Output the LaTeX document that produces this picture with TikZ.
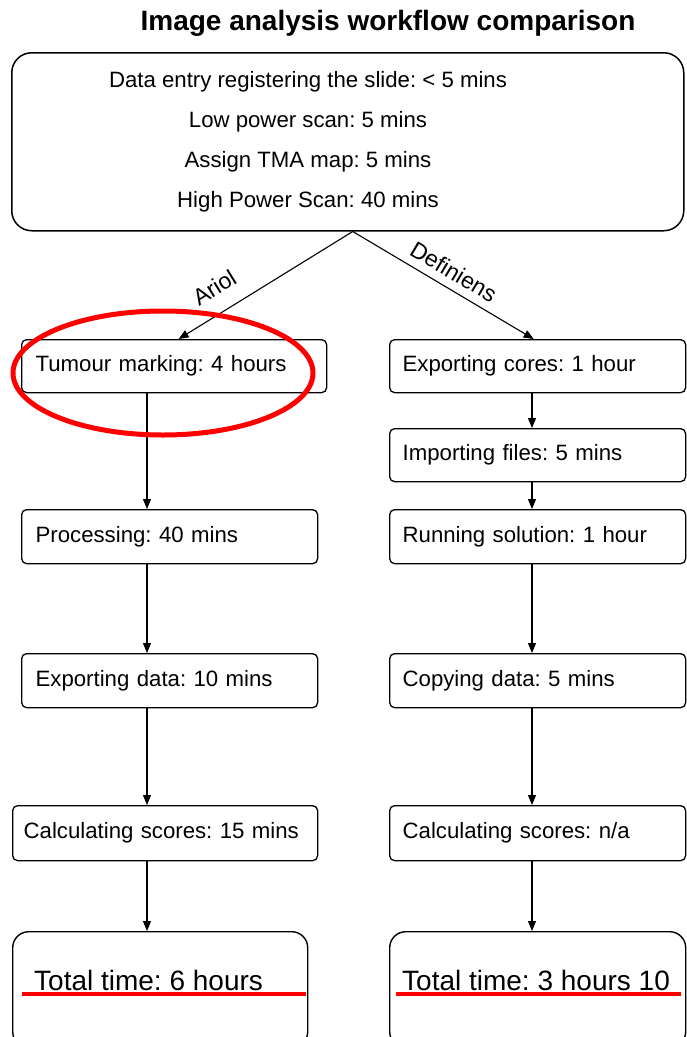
\documentclass[tikz,border=0pt]{standalone}
\usepackage{fontspec}
\setmainfont{Liberation Sans}
\usetikzlibrary{arrows.meta}
\frenchspacing
\begin{document}
\begin{tikzpicture}[x=1pt,y=-1pt,
  stage/.style={draw, line width=1.3pt, rounded corners=5pt, anchor=north west,
    inner ysep=0pt, align=left, font=\fontsize{22.2}{26}\selectfont},
  totalbox/.style={draw, line width=1.4pt, rounded corners=16pt, anchor=north west, inner sep=0pt},
  linetext/.style={anchor=base, inner sep=0pt, font=\fontsize{22.2}{26}\selectfont},
  totaltext/.style={anchor=base west, inner sep=0pt, font=\fontsize{28}{31}\selectfont},
  arr/.style={line width=1.1pt, -{Triangle[length=10pt,width=8pt]}},
  branch/.style={inner sep=0pt, sloped, font=\fontsize{23}{26}\selectfont},
  redmark/.style={draw=red, line width=4pt}]
\clip (0,0) rectangle (687,1037);
\fill[white] (0,0) rectangle (687,1037);

% title
\node[anchor=base, inner sep=0pt, font=\fontsize{28}{32}\bfseries] (title) at (388,30) {Image analysis workflow comparison};

% top box
\node[draw, line width=1.5pt, rounded corners=20pt, anchor=north west, inner sep=0pt,
  minimum width=672pt, minimum height=178pt] (top) at (11,52) {};
\node[linetext] (t1) at (308,87) {Data entry registering the slide: < 5 mins};
\node[linetext] (t2) at (308,127) {Low power scan: 5 mins};
\node[linetext] (t3) at (308,167) {Assign TMA map: 5 mins};
\node[linetext] (t4) at (308,207) {High Power Scan: 40 mins};

% left column (Ariol)
\node[stage, inner xsep=14pt, minimum width=305pt, text width=277pt, minimum height=53pt] (tum) at (21,339) {Tumour marking: 4 hours};
\node[stage, inner xsep=14pt, minimum width=296pt, text width=268pt, minimum height=54pt] (proc) at (21,509) {Processing: 40 mins};
\node[stage, inner xsep=14pt, minimum width=296pt, text width=268pt, minimum height=54pt] (expd) at (21,653) {Exporting data: 10 mins};
\node[stage, inner xsep=11pt, minimum width=305pt, text width=283pt, minimum height=55pt] (calcL) at (12,805) {Calculating scores: 15 mins};
\node[totalbox, minimum width=295pt, minimum height=116pt] (totL) at (12,931) {};
\node[totaltext] (totLt) at (34,990) {Total time: 6 hours};

% right column (Definiens)
\node[stage, inner xsep=13pt, minimum width=296pt, text width=270pt, minimum height=53pt] (expc) at (389,339) {Exporting cores: 1 hour};
\node[stage, inner xsep=13pt, minimum width=296pt, text width=270pt, minimum height=53pt] (imp) at (389,428) {Importing files: 5 mins};
\node[stage, inner xsep=13pt, minimum width=296pt, text width=270pt, minimum height=54pt] (run) at (389,509) {Running solution: 1 hour};
\node[stage, inner xsep=13pt, minimum width=296pt, text width=270pt, minimum height=54pt] (copy) at (389,653) {Copying data: 5 mins};
\node[stage, inner xsep=13pt, minimum width=296pt, text width=270pt, minimum height=55pt] (calcR) at (389,805) {Calculating scores: n/a};
\node[totalbox, minimum width=296pt, minimum height=116pt] (totR) at (389,931) {};
\node[totaltext] (totRt) at (402,990) {Total time: 3 hours 10};

% branch connectors
\coordinate (apex) at ([xshift=5pt]top.south);
\draw[arr] (apex) -- ([xshift=4.5pt]tum.north)
  node[branch, pos=0.72, above=16pt] {Ariol};
\draw[arr] (apex) -- ([xshift=-4pt]expc.north)
  node[branch, pos=0.51, above=8pt] {Definiens};

% column connectors
\coordinate (cL) at (147,0);
\coordinate (cR) at (532,0);
\draw[arr] (tum.south -| cL) -- (proc.north -| cL);
\draw[arr] (proc.south -| cL) -- (expd.north -| cL);
\draw[arr] (expd.south -| cL) -- (calcL.north -| cL);
\draw[arr] (calcL.south -| cL) -- (totL.north -| cL);
\draw[arr] (expc.south -| cR) -- (imp.north -| cR);
\draw[arr] (imp.south -| cR) -- (run.north -| cR);
\draw[arr] (run.south -| cR) -- (copy.north -| cR);
\draw[arr] (copy.south -| cR) -- (calcR.north -| cR);
\draw[arr] (calcR.south -| cR) -- (totR.north -| cR);

% red highlights
\draw[red, line width=5pt] (163,373) ellipse [x radius=150pt, y radius=62pt];
\draw[redmark] ([xshift=10pt]totL.west |- 0,994) -- ([xshift=-2pt]totL.east |- 0,994);
\draw[redmark] ([xshift=7pt]totR.west |- 0,994) -- ([xshift=-5pt]totR.east |- 0,994);
\end{tikzpicture}
\end{document}
